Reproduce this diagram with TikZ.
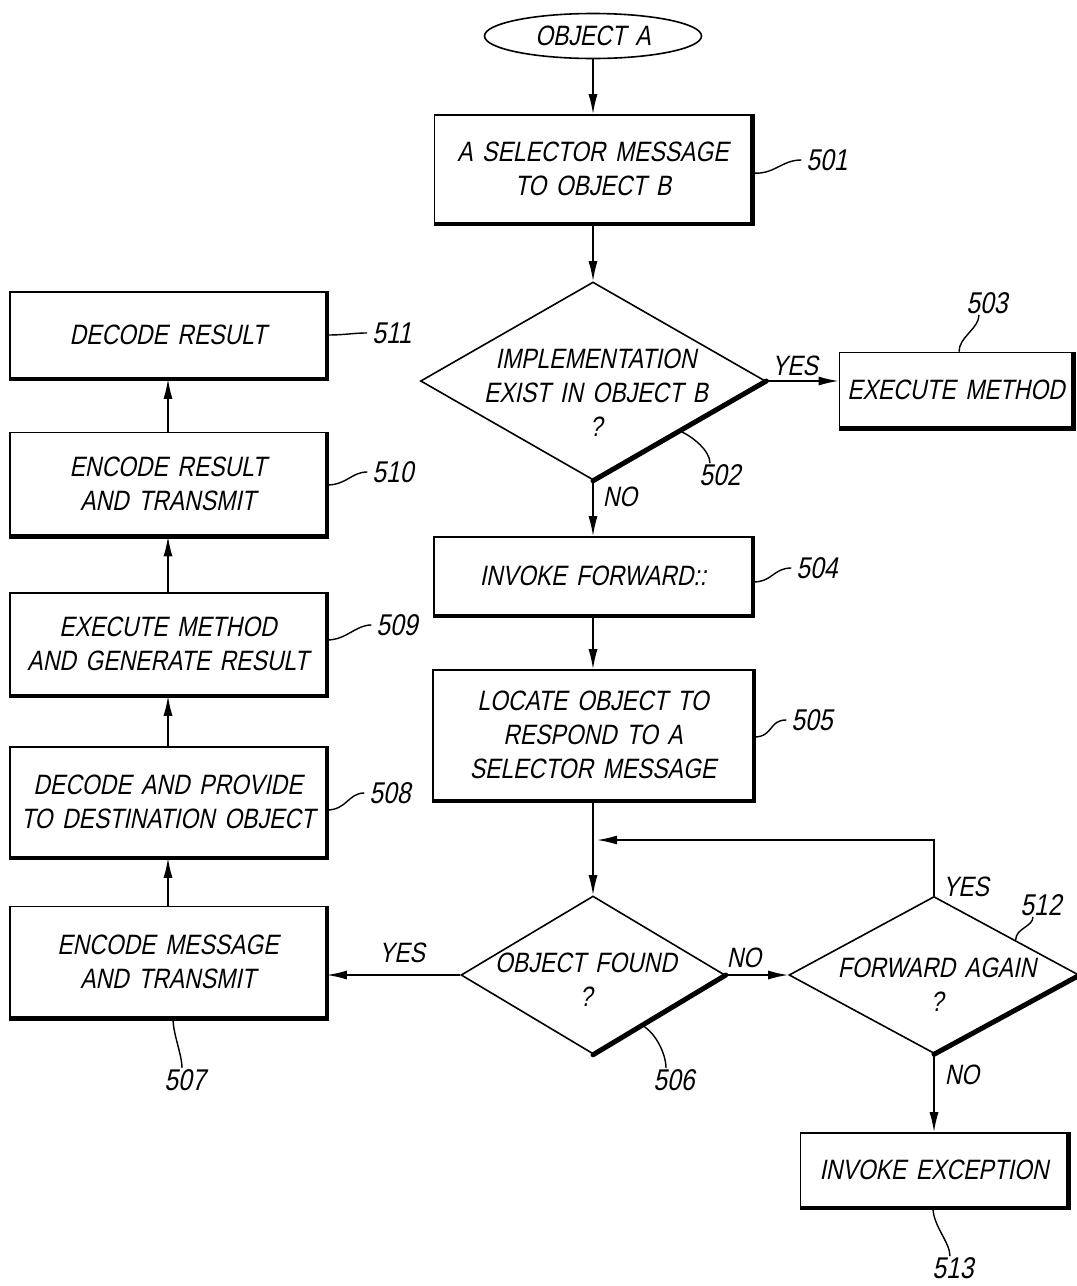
\documentclass[tikz,border=0pt]{standalone}
\usepackage{fontspec}
\newfontfamily\pat{Liberation Sans}[FakeStretch=0.82,FakeSlant=0.2,WordSpace=1.5]
\usetikzlibrary{shapes.geometric,arrows.meta,calc}
\begin{document}
\begin{tikzpicture}[x=1pt,y=-1pt,
  every node/.style={font=\pat\fontsize{28}{34}\selectfont,align=center,inner sep=1pt},
  num/.style={font=\pat\fontsize{30}{34}\selectfont},
  pbox/.style={draw,rectangle,line width=1.6pt,inner sep=0pt},
  pdia/.style={draw,diamond,line width=1.6pt,inner sep=0pt},
  pell/.style={draw,ellipse,line width=1.6pt,inner sep=0pt,minimum width=217pt,minimum height=45pt},
  arr/.style={line width=1.6pt,-{Latex[length=20pt,width=9pt]}},
  ln/.style={line width=1.6pt},
  lead/.style={line width=1.4pt},
  heavy/.style={line width=4.5pt,line join=miter,line cap=butt}]
\useasboundingbox (0,0) rectangle (1077,1286);

% centre column
\node[pell] (objA) at (593,36) {OBJECT A};
\node[pbox,minimum width=317pt,minimum height=108pt] (b501) at (593,169) {A SELECTOR MESSAGE\\TO OBJECT B};
\node[pdia,minimum width=345pt,minimum height=198pt] (d502) at (593,381) {};
\node (t502) at (596,393) {IMPLEMENTATION\\EXIST IN OBJECT B\\?};
\node[pbox,minimum width=233pt,minimum height=75pt] (b503) at (956,390) {EXECUTE METHOD};
\node[pbox,minimum width=318pt,minimum height=78pt] (b504) at (593,576) {INVOKE FORWARD::};
\node[pbox,minimum width=320pt,minimum height=130pt] (b505) at (593,735) {LOCATE OBJECT TO\\RESPOND TO A\\SELECTOR MESSAGE};
\coordinate (j) at (593,840);
\node[pdia,minimum width=264pt,minimum height=158pt] (d506) at (593,975) {};
\node (t506) at (586,980) {OBJECT FOUND\\?};
\node[pdia,minimum width=290pt,minimum height=157pt] (d512) at (934,975) {};
\node (t512) at (937,985) {FORWARD AGAIN\\?};
\node[pbox,minimum width=267pt,minimum height=74pt] (b513) at (934,1170) {INVOKE EXCEPTION};

% left column
\node[pbox,minimum width=316pt,minimum height=111pt] (b507) at (168,962) {ENCODE MESSAGE\\AND TRANSMIT};
\node[pbox,minimum width=316pt,minimum height=110pt] (b508) at (168,802) {DECODE AND PROVIDE\\TO DESTINATION OBJECT};
\node[pbox,minimum width=316pt,minimum height=102pt] (b509) at (168,644) {EXECUTE METHOD\\AND GENERATE RESULT};
\node[pbox,minimum width=316pt,minimum height=103pt] (b510) at (168,484) {ENCODE RESULT\\AND TRANSMIT};
\node[pbox,minimum width=316pt,minimum height=86pt] (b511) at (168,335) {DECODE RESULT};

% heavy shadow edges
\foreach \b in {b501,b503,b504,b505,b507,b508,b509,b510,b511,b513}
  \draw[heavy] (\b.north east) -- (\b.south east) -- (\b.south west);
\foreach \d in {d502,d506,d512}
  \draw[line width=5pt,line cap=round] (\d.east) -- (\d.south);

% connectors
\draw[arr] (objA.south) -- (b501.north);
\draw[arr] (b501.south) -- (d502.north);
\draw[arr] (d502.east) -- (d502.east -| b503.west);
\draw[arr] (d502.south) -- (b504.north);
\draw[arr] (b504.south) -- (b505.north);
\draw[ln] (b505.south) -- (j);
\draw[arr] (j) -- (d506.north);
\draw[arr,shorten >=4pt] (d512.north) |- (j);
\draw[arr] (d506.east) -- (d512.west);
\draw[arr] (d506.west) -- (d506.west -| b507.east);
\draw[arr] (d512.south) -- (b513.north);
\draw[arr] (b507.north) -- (b508.south);
\draw[arr] (b508.north) -- (b509.south);
\draw[arr] (b509.north) -- (b510.south);
\draw[arr] (b510.north) -- (b511.south);

% branch labels
\node (yes1) at (795,366) {YES};
\node (no1) at (620,497) {NO};
\node (yes2) at (966,887) {YES};
\node (no2) at (744,958) {NO};
\node (no3) at (962,1075) {NO};
\node (yes3) at (402,953) {YES};

% reference numerals
\node[num] (l501) at (827,160) {501};
\node[num] (l502) at (720,475) {502};
\node[num] (l503) at (987,303) {503};
\node[num] (l504) at (817,568) {504};
\node[num] (l505) at (812,720) {505};
\node[num] (l506) at (674,1080) {506};
\node[num] (l507) at (185,1080) {507};
\node[num] (l508) at (390,793) {508};
\node[num] (l509) at (397,625) {509};
\node[num] (l510) at (393,472) {510};
\node[num] (l511) at (392,333) {511};
\node[num] (l512) at (1041,905) {512};
\node[num] (l513) at (953,1268) {513};

% leader lines
\draw[lead] ([yshift=-4pt]b501.east) .. controls +(22,2) and +(-20,0) .. ([xshift=-4pt]l501.west);
\draw[lead] ($(d502.east)!0.5!(d502.south)$) .. controls +(14,6) and +(0,-12) .. ([xshift=-10pt]l502.north);
\draw[lead] ([xshift=3pt]b503.north) .. controls +(0,-15) and +(0,14) .. ([xshift=-8pt]l503.south);
\draw[lead] ([yshift=-6pt]b504.east) .. controls +(20,0) and +(-18,0) .. ([xshift=-4pt]l504.west);
\draw[lead] ([yshift=-2pt]b505.east) .. controls +(20,0) and +(-18,0) .. ([xshift=-4pt]l505.west);
\draw[lead] ($(d506.east)!0.63!(d506.south)$) .. controls +(14,8) and +(0,-14) .. ([xshift=-8pt]l506.north);
\draw[lead] ([xshift=5pt]b507.south) .. controls +(0,16) and +(0,-14) .. ([xshift=-3pt]l507.north);
\draw[lead] ([yshift=-8pt]b508.east) .. controls +(20,0) and +(-16,0) .. ([xshift=-4pt]l508.west);
\draw[lead] ([yshift=4pt]b509.east) .. controls +(20,0) and +(-16,0) .. ([xshift=-4pt]l509.west);
\draw[lead] ([yshift=-1pt]b510.east) .. controls +(20,0) and +(-16,0) .. ([xshift=-4pt]l510.west);
\draw[lead] (b511.east) .. controls +(20,0) and +(-16,0) .. ([xshift=-4pt]l511.west);
\draw[lead] ($(d512.north)!0.56!(d512.east)$) .. controls +(0,-12) and +(0,10) .. ([xshift=-8pt]l512.south);
\draw[lead] ([xshift=-1pt]b513.south) .. controls +(0,18) and +(0,-14) .. ([xshift=-3pt]l513.north);
\end{tikzpicture}
\end{document}
